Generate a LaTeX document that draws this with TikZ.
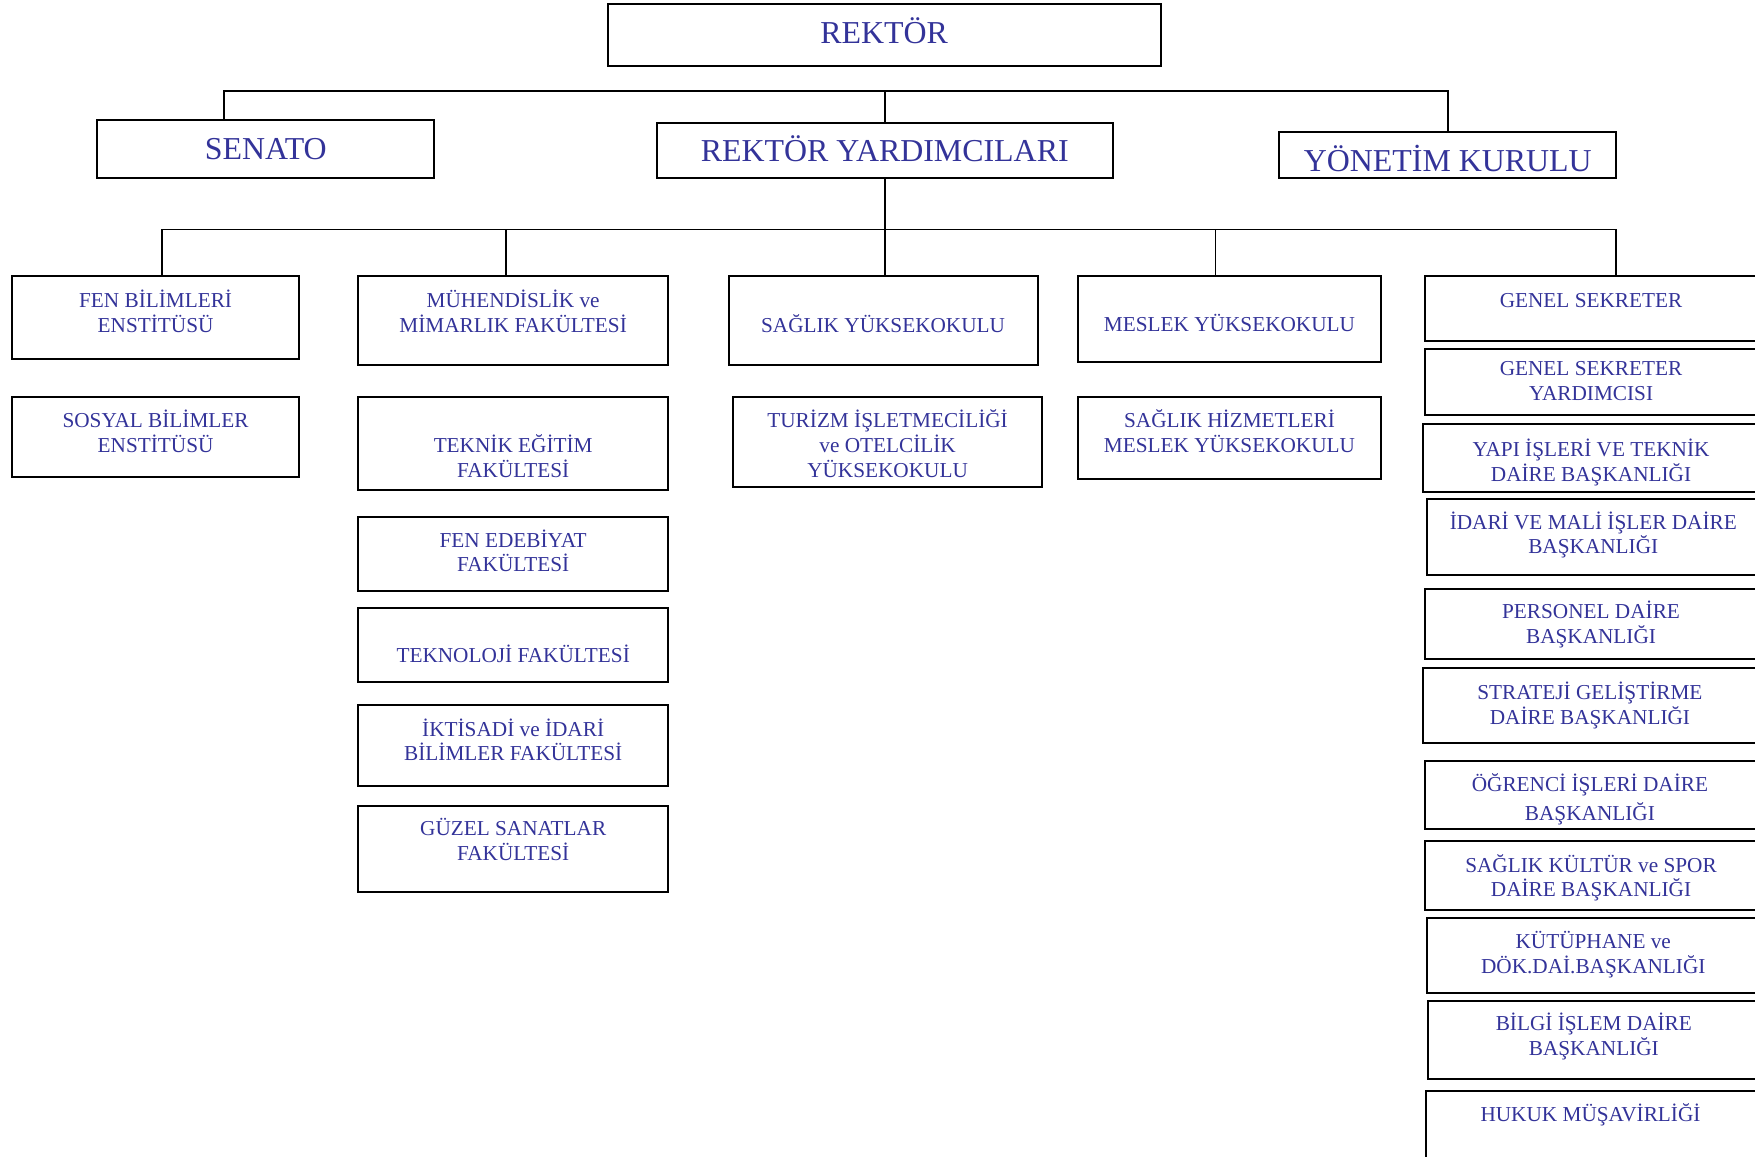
\documentclass[tikz,border=0pt]{standalone}
\usepackage{fontspec}
\setmainfont{Liberation Serif}
\usetikzlibrary{positioning}
\definecolor{orgblue}{RGB}{51,51,153}
\newcommand{\smallorg}{\fontsize{19pt}{22pt}\selectfont}
\newcommand{\bigorg}{\fontsize{28.5pt}{34pt}\selectfont}
\newcommand{\sstrut}{\rule[-6.6pt]{0pt}{22pt}}
\newcommand{\bstrut}{\rule[-10.2pt]{0pt}{34pt}}

\begin{document}
\begin{tikzpicture}[x=1pt, y=-1pt,
            unit/.style={rectangle, draw, line width=1.8pt, inner sep=0pt, outer sep=0pt},
            txt/.style={font=\smallorg, text=orgblue, align=center, inner sep=0pt,
                execute at begin node=\sstrut, execute at end node=\sstrut},
            bigtxt/.style={font=\bigorg, text=orgblue, inner sep=0pt,
                execute at begin node=\bstrut},
            conn/.style={line width=1.6pt}
        ]

            \useasboundingbox (0,0) rectangle (1568,1033);
            \clip (0,0) rectangle (1568,1033);

            % top level
            \node[unit, minimum width=494pt, minimum height=55pt] (rek) at (790,31.5) {};
            \node[bigtxt, yshift=-1pt] at (rek) {REKTÖR};

            \node[unit, minimum width=301pt, minimum height=52pt] (sen) at (237.5,133) {};
            \node[bigtxt, yshift=-3pt] at (sen) {SENATO};

            \node[unit, minimum width=407pt, minimum height=49pt] (ry) at (790.5,134.5) {};
            \node[bigtxt, yshift=-3pt] at (ry) {REKTÖR YARDIMCILARI};

            \node[unit, minimum width=301pt, minimum height=41pt] (yk) at (1293.5,138.5) {};
            \node[bigtxt, yshift=-8pt] at (yk) {YÖNETİM KURULU};

            % enstitüler
            \node[unit, minimum width=256pt, minimum height=74pt] (fenbil) at (139,284) {};
            \node[txt, below=12pt] at (fenbil.north) {FEN BİLİMLERİ\\ENSTİTÜSÜ};

            \node[unit, minimum width=256pt, minimum height=71pt] (sosyal) at (139,390.5) {};
            \node[txt, below=11pt] at (sosyal.north) {SOSYAL BİLİMLER\\ENSTİTÜSÜ};

            % fakülteler
            \node[unit, minimum width=277pt, minimum height=79pt] (muh) at (458.5,286.5) {};
            \node[txt, below=12pt] at (muh.north) {MÜHENDİSLİK ve\\MİMARLIK FAKÜLTESİ};

            \node[unit, minimum width=277pt, minimum height=83pt] (tek) at (458.5,396.5) {};
            \node[txt, below=33pt] at (tek.north) {TEKNİK EĞİTİM\\FAKÜLTESİ};

            \node[unit, minimum width=277pt, minimum height=66pt] (fened) at (458.5,495) {};
            \node[txt, below=11pt] at (fened.north) {FEN EDEBİYAT\\FAKÜLTESİ};

            \node[unit, minimum width=277pt, minimum height=66pt] (tekno) at (458.5,576) {};
            \node[txt, below=33pt] at (tekno.north) {TEKNOLOJİ FAKÜLTESİ};

            \node[unit, minimum width=277pt, minimum height=72pt] (iib) at (458.5,666) {};
            \node[txt, below=12pt] at (iib.north) {İKTİSADİ ve İDARİ\\BİLİMLER FAKÜLTESİ};

            \node[unit, minimum width=277pt, minimum height=77pt] (gsf) at (458.5,758.5) {};
            \node[txt, below=11pt] at (gsf.north) {GÜZEL SANATLAR\\FAKÜLTESİ};

            % yüksekokullar
            \node[unit, minimum width=276pt, minimum height=79pt] (syo) at (789,286.5) {};
            \node[txt, below=34pt] at (syo.north) {SAĞLIK YÜKSEKOKULU};

            \node[unit, minimum width=276pt, minimum height=80pt] (tur) at (793,395) {};
            \node[txt, below=11pt] at (tur.north) {TURİZM İŞLETMECİLİĞİ\\ve OTELCİLİK\\YÜKSEKOKULU};

            \node[unit, minimum width=271pt, minimum height=76pt] (myo) at (1098.5,285) {};
            \node[txt, below=34pt] at (myo.north) {MESLEK YÜKSEKOKULU};

            \node[unit, minimum width=271pt, minimum height=73pt] (shm) at (1098.5,391.5) {};
            \node[txt, below=11pt] at (shm.north) {SAĞLIK HİZMETLERİ\\MESLEK YÜKSEKOKULU};

            % genel sekreterlik
            \node[unit, minimum width=299pt, minimum height=58pt] (gs) at (1422.5,276) {};
            \node[txt, below=12pt, xshift=-1pt] at (gs.north) {GENEL SEKRETER};

            \node[unit, minimum width=299pt, minimum height=59pt] (gsy) at (1422.5,341.5) {};
            \node[txt, below=11pt, xshift=-1pt] at (gsy.north) {GENEL SEKRETER\\YARDIMCISI};

            \node[unit, minimum width=301pt, minimum height=61pt] (yapi) at (1421.5,409.5) {};
            \node[txt, below=13pt] at (yapi.north) {YAPI İŞLERİ VE TEKNİK\\DAİRE BAŞKANLIĞI};

            \node[unit, minimum width=297pt, minimum height=68pt] (idari) at (1423.5,480) {};
            \node[txt, below=11pt] at (idari.north) {İDARİ VE MALİ İŞLER DAİRE\\BAŞKANLIĞI};

            \node[unit, minimum width=299pt, minimum height=63pt] (pers) at (1422.5,557.5) {};
            \node[txt, below=11pt, xshift=-1pt] at (pers.north) {PERSONEL DAİRE\\BAŞKANLIĞI};

            \node[unit, minimum width=301pt, minimum height=67pt] (str) at (1421.5,630.5) {};
            \node[txt, below=12pt, xshift=-1pt] at (str.north) {STRATEJİ GELİŞTİRME\\DAİRE BAŞKANLIĞI};

            \node[unit, minimum width=299pt, minimum height=61pt] (ogr) at (1422.5,710.5) {};
            \node[txt, below=11pt, xshift=-2pt] at (ogr.north) {ÖĞRENCİ İŞLERİ DAİRE\\[4pt]BAŞKANLIĞI};

            \node[unit, minimum width=299pt, minimum height=62pt] (sks) at (1422.5,782) {};
            \node[txt, below=12pt, xshift=-1pt] at (sks.north) {SAĞLIK KÜLTÜR ve SPOR\\DAİRE BAŞKANLIĞI};

            \node[unit, minimum width=297pt, minimum height=67pt] (kut) at (1423.5,853.5) {};
            \node[txt, below=12pt] at (kut.north) {KÜTÜPHANE ve\\DÖK.DAİ.BAŞKANLIĞI};

            \node[unit, minimum width=296pt, minimum height=70pt] (bil) at (1424,929) {};
            \node[txt, below=11pt] at (bil.north) {BİLGİ İŞLEM DAİRE\\BAŞKANLIĞI};

            \node[unit, minimum width=298pt, minimum height=70pt] (huk) at (1423,1010) {};
            \node[txt, below=11pt, xshift=-2pt] at (huk.north) {HUKUK MÜŞAVİRLİĞİ};

            % connectors
            \coordinate (b1l) at (200,81);
            \coordinate (b1r) at (1293.5,81);
            \draw[conn] (b1l |- sen.north) -- (b1l) -- (b1r) -- (yk.north);
            \draw[conn] (ry.north) -- (ry.north |- b1l);

            \coordinate (b2l) at (145,205);
            \coordinate (b2r) at (1444,205);
            \coordinate (j2) at (452,205);
            \coordinate (j4) at (1086,205);
            \draw[conn] (b2l |- fenbil.north) -- (b2l) -- (b2r) -- (b2r |- gs.north);
            \draw[conn] (ry.south) -- (ry.south |- syo.north);
            \draw[conn] (j2) -- (j2 |- muh.north);
            \draw[conn] (j4) -- (j4 |- myo.north);

        \end{tikzpicture}
\end{document}
